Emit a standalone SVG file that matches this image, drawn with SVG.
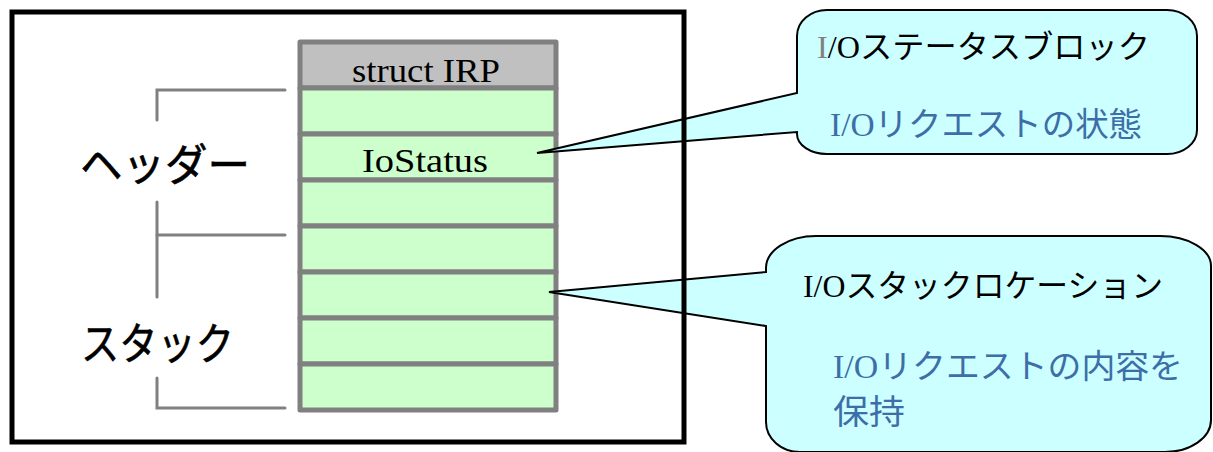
<svg xmlns="http://www.w3.org/2000/svg" width="1213" height="452" viewBox="0 0 1213 452">
  <style>
    .row { fill: #ccffcc; stroke: #808080; stroke-width: 5; stroke-linejoin: round; }
    .hdr { fill: #c0c0c0; stroke: #808080; stroke-width: 5; stroke-linejoin: round; }
    .serif { font-family: "Liberation Serif", "Times New Roman", serif; fill: #000; }
    .jp { font-family: "Noto Sans CJK JP", "Noto Sans", sans-serif; fill: #000; }
    .blue { fill: #3e6ea7; }
    .callout { fill: #ccffff; stroke: #000; stroke-width: 2; stroke-linejoin: miter; }
    .bracket { fill: none; stroke: #808080; stroke-width: 3; stroke-linecap: round; }
  </style>
  <rect x="0" y="0" width="1213" height="452" fill="#ffffff"/>

  <g id="irp-table">
    <rect class="hdr" x="300" y="42" width="256" height="46"/>
    <rect class="row" x="300" y="88" width="256" height="46"/>
    <rect class="row" x="300" y="134" width="256" height="46"/>
    <rect class="row" x="300" y="180" width="256" height="46"/>
    <rect class="row" x="300" y="226" width="256" height="46"/>
    <rect class="row" x="300" y="272" width="256" height="46"/>
    <rect class="row" x="300" y="318" width="256" height="46"/>
    <rect class="row" x="300" y="364" width="256" height="46"/>
    <text class="serif" x="352" y="82" font-size="34" textLength="148" lengthAdjust="spacingAndGlyphs">struct IRP</text>
    <text class="serif" x="362" y="172" font-size="34" textLength="126" lengthAdjust="spacingAndGlyphs">IoStatus</text>
  </g>

  <g id="brackets">
    <path class="bracket" d="M285 90 H157 V120"/>
    <path class="bracket" d="M157 202 V297"/>
    <path class="bracket" d="M157 235 H285"/>
    <path class="bracket" d="M157 378 V408 H285"/>
  </g>

  <g id="label-header">
    <text class="jp" x="80" y="181" font-size="44" textLength="170" lengthAdjust="spacingAndGlyphs" stroke="#000" stroke-width="0.6">ヘッダー</text>
  </g>
  <g id="label-stack">
    <text class="jp" x="81" y="360" font-size="44" textLength="153" lengthAdjust="spacingAndGlyphs" stroke="#000" stroke-width="0.6">スタック</text>
  </g>

  <g id="callout-status">
    <path class="callout" d="M797 93 V36 A30 26 0 0 1 827 10 H1167 A30 26 0 0 1 1197 36 V130 A30 24 0 0 1 1167 154 H827 A30 20 0 0 1 797 134 V132 L537 153 Z"/>
    <text class="jp" x="817" y="58" font-size="32" textLength="333" lengthAdjust="spacingAndGlyphs"><tspan class="serif" style="fill:#808080">I</tspan><tspan class="serif">/O</tspan>ステータスブロック</text>
    <text class="jp blue" x="830" y="136" font-size="33" textLength="312" lengthAdjust="spacingAndGlyphs"><tspan class="serif blue">I/O</tspan>リクエストの状態</text>
  </g>

  <g id="callout-stack">
    <path class="callout" d="M766 272 V268 A50 32 0 0 1 816 236 H1160 A51 30 0 0 1 1211 266 V420 A46 32 0 0 1 1165 452 H800 A34 30 0 0 1 766 422 V326 L549 292 Z"/>
    <text class="jp" x="803" y="297" font-size="32" textLength="360" lengthAdjust="spacingAndGlyphs"><tspan class="serif">I/O</tspan>スタックロケーション</text>
    <text class="jp blue" x="833" y="378" font-size="33" textLength="350" lengthAdjust="spacingAndGlyphs"><tspan class="serif blue">I/O</tspan>リクエストの内容を</text>
    <text class="jp blue" x="833" y="424" font-size="34" textLength="72" lengthAdjust="spacingAndGlyphs">保持</text>
  </g>

  <g id="outer-frame">
    <rect x="12" y="12" width="672" height="430" fill="none" stroke="#000" stroke-width="5"/>
  </g>
</svg>
